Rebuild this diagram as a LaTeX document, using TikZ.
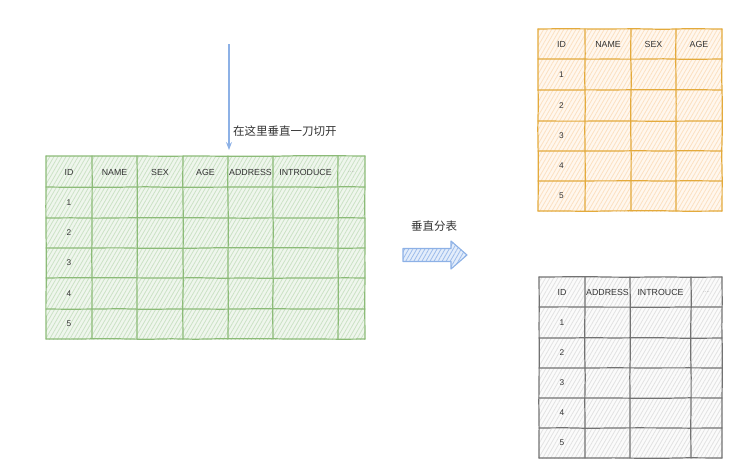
\documentclass[tikz,border=0pt]{standalone}
\usepackage{fontspec}
\setmainfont{Liberation Sans}
\newfontfamily\cjk{Noto Sans CJK SC}
\usetikzlibrary{patterns.meta,arrows.meta,decorations.pathmorphing}

\definecolor{greenline}{HTML}{8CBB78}
\definecolor{greenbg}{HTML}{EFF6ED}
\definecolor{greenhatch}{HTML}{CBE2C5}
\definecolor{orangeline}{HTML}{E3AA3C}
\definecolor{orangebg}{HTML}{FFF7EE}
\definecolor{orangehatch}{HTML}{FCE0C0}
\definecolor{grayline}{HTML}{727272}
\definecolor{graybg}{HTML}{FBFBFB}
\definecolor{grayhatch}{HTML}{E2E2E2}
\definecolor{blueline}{HTML}{8DB1E6}
\definecolor{bluebg}{HTML}{E3EDFB}
\definecolor{bluehatch}{HTML}{9DBCEB}
\definecolor{txt}{HTML}{333333}

\tikzset{
  sketchy/.style={decorate, decoration={random steps, segment length=25pt, amplitude=.35pt}},
  gridline/.style={sketchy, line width=1.2pt, line cap=round},
  hatch/.style={pattern={Lines[angle=60, distance=3.5pt, line width=.8pt]}, pattern color=#1},
  headtext/.style={font=\fontsize{8.8}{10}\selectfont, text=txt, inner sep=1pt},
  numtext/.style={font=\fontsize{8.3}{10}\selectfont, text=txt, inner sep=1pt},
  dotstext/.style={font=\fontsize{6}{7}\selectfont, text=gray!70, inner sep=1pt},
  cjktext/.style={font=\cjk\fontsize{11.5}{13}\selectfont, text=txt, inner sep=1pt},
}

\begin{document}
\begin{tikzpicture}[x=1pt, y=-1pt, line join=round, >=Stealth]
  \pgfmathsetseed{7}
  \useasboundingbox (0,0) rectangle (744,474);

  % original table, green
  \fill[greenbg] (46,156) rectangle (365,339);
  \fill[hatch=greenhatch] (46,156) rectangle (365,339);
  \foreach \x in {46,92,137,183,228,273,338,365}
    \draw[gridline, greenline] (\x,156) -- (\x,339);
  \foreach \y in {156,187,218,248,278,309,339}
    \draw[gridline, greenline] (46,\y) -- (365,\y);
  \foreach \t/\x [count=\i] in {ID/69, NAME/114.5, SEX/160, AGE/205.5, ADDRESS/250.5, INTRODUCE/305.5}
    \node[headtext] (gh\i) at (\x,172) {\t};
  \node[dotstext] (gh7) at (351.5,172) {....};
  \foreach \y [count=\i] in {202.5,233,263,293.5,324}
    \node[numtext] (gr\i) at (69,\y) {\i};

  % cut marker
  \coordinate (cutstart) at (229,44);
  \coordinate (cutend) at (229,150);
  \draw[->, blueline, line width=1.1pt] (cutstart) -- (cutend);
  \node[cjktext, anchor=west] (cutlabel) at (232,131) {在这里垂直一刀切开};

  % split arrow
  \node[cjktext] (splitlabel) at (434,226) {垂直分表};
  \fill[bluebg] (403,248.5) -- (451,248.5) -- (451,241) -- (467,255)
    -- (451,269) -- (451,261.5) -- (403,261.5) -- cycle;
  \fill[hatch=bluehatch] (403,248.5) -- (451,248.5) -- (451,241) -- (467,255)
    -- (451,269) -- (451,261.5) -- (403,261.5) -- cycle;
  \draw[blueline, line width=1.1pt] (403,248.5) -- (451,248.5) -- (451,241) -- (467,255)
    -- (451,269) -- (451,261.5) -- (403,261.5) -- cycle;

  % upper part, orange
  \fill[orangebg] (538,29) rectangle (722,211);
  \fill[hatch=orangehatch] (538,29) rectangle (722,211);
  \foreach \x in {538,585,631,676,722}
    \draw[gridline, orangeline] (\x,29) -- (\x,211);
  \foreach \y in {29,59,90,121,151,181,211}
    \draw[gridline, orangeline] (538,\y) -- (722,\y);
  \foreach \t/\x [count=\i] in {ID/561.5, NAME/608, SEX/653.5, AGE/699}
    \node[headtext] (oh\i) at (\x,44.5) {\t};
  \foreach \y [count=\i] in {74.5,105.5,136,166,196}
    \node[numtext] (or\i) at (561.5,\y) {\i};

  % lower part, gray
  \fill[graybg] (539,277) rectangle (722,458);
  \fill[hatch=grayhatch] (539,277) rectangle (722,458);
  \foreach \x in {539,585,630,691,722}
    \draw[gridline, grayline] (\x,277) -- (\x,458);
  \foreach \y in {277,307,338,368,398,428,458}
    \draw[gridline, grayline] (539,\y) -- (722,\y);
  \foreach \t/\x [count=\i] in {ID/562, ADDRESS/607.5, INTROUCE/660.5}
    \node[headtext] (wh\i) at (\x,292) {\t};
  \node[dotstext] (wh4) at (706.5,292) {....};
  \foreach \y [count=\i] in {322.5,353,383,413,443}
    \node[numtext] (wr\i) at (562,\y) {\i};
\end{tikzpicture}
\end{document}
